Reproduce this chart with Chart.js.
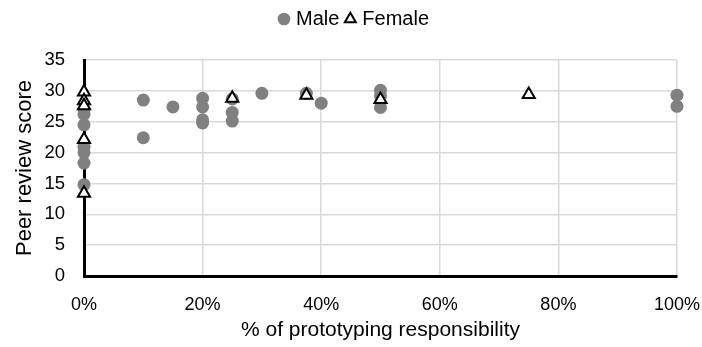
<!DOCTYPE html>
<html lang="en">
<head>
    <meta charset="UTF-8">
    <title>Peer review score vs prototyping responsibility</title>
    <script src="https://cdn.jsdelivr.net/npm/chart.js"></script>
    <style>
        html, body { margin: 0; padding: 0; background: #fff; }
        #wrap { width: 702px; height: 347px; }
    </style>
</head>
<body>
    <div id="wrap"><canvas id="scatter" width="702" height="347"></canvas></div>

    <script>
        // % of prototyping responsibility (x) and peer review score (y)
        const maleX = [0, 0, 0, 0, 0, 0, 0, 10, 10, 15, 20, 20, 20, 20, 25, 25, 25, 30, 37.5, 40, 50, 50, 50, 100, 100];
        const maleY = [27.0, 26.2, 24.5, 20.9, 20.0, 18.3, 14.8, 28.5, 22.4, 27.4, 28.8, 27.4, 25.3, 24.8, 28.7, 26.5, 25.1, 29.6, 29.6, 28.0, 30.1, 29.2, 27.3, 29.3, 27.5];
        const femaleX = [0, 0, 0, 0, 0, 25, 37.5, 50, 75];
        const femaleY = [29.8, 28.4, 27.6, 22.1, 13.4, 28.8, 29.3, 28.6, 29.4];

        const xTicks = [0, 20, 40, 60, 80, 100];
        const yTicks = [0, 5, 10, 15, 20, 25, 30, 35];

        const toPoints = (xs, ys) => xs.map((x, i) => ({ x: x, y: ys[i] }));

        const family = 'Liberation Sans, Arial, sans-serif';

        // legend box is made taller so the plot starts lower, like the original
        const legendGap = {
            id: 'legendGap',
            beforeLayout(chart) {
                const lg = chart.legend;
                if (!lg || lg._gapDone) return;
                const fit = lg.fit.bind(lg);
                lg.fit = function () { fit(); this.height = 60; };
                lg._gapDone = true;
            }
        };

        new Chart(document.getElementById('scatter'), {
            type: 'scatter',
            data: {
                datasets: [{
                    label: 'Female',
                    data: toPoints(femaleX, femaleY),
                    pointStyle: 'triangle',
                    radius: 7,
                    backgroundColor: '#ffffff',
                    borderColor: '#000000',
                    borderWidth: 2,
                    clip: false
                }, {
                    label: 'Male',
                    data: toPoints(maleX, maleY),
                    pointStyle: 'circle',
                    radius: 6.5,
                    backgroundColor: '#808080',
                    borderColor: '#808080',
                    borderWidth: 0,
                    clip: false
                }]
            },
            plugins: [legendGap],
            options: {
                responsive: false,
                animation: false,
                layout: { padding: { left: 12, right: 3, top: 0, bottom: 4 } },
                plugins: {
                    tooltip: { enabled: false },
                    legend: {
                        position: 'top',
                        reverse: true,
                        labels: {
                            usePointStyle: true,
                            boxWidth: 4,
                            boxHeight: 9,
                            color: '#000',
                            font: { family: family, size: 20 },
                            padding: 9
                        }
                    }
                },
                scales: {
                    x: {
                        type: 'linear',
                        min: 0,
                        max: 100,
                        afterBuildTicks: axis => { axis.ticks = xTicks.map(v => ({ value: v })); },
                        afterFit: axis => { axis.height = 67; },
                        ticks: {
                            color: '#000',
                            font: { family: family, size: 18 },
                            padding: 2,
                            callback: v => v + '%'
                        },
                        grid: { color: '#d9d9d9', lineWidth: 1.5, drawTicks: true, tickLength: 16, tickColor: 'rgba(0,0,0,0)' },
                        border: { color: '#000', width: 3 },
                        title: {
                            display: true,
                            text: '% of prototyping responsibility',
                            color: '#000',
                            font: { family: family, size: 21 },
                            padding: 0
                        }
                    },
                    y: {
                        min: 0,
                        max: 35,
                        afterBuildTicks: axis => { axis.ticks = yTicks.map(v => ({ value: v })); },
                        afterFit: axis => { axis.width = 72; },
                        ticks: {
                            color: '#000',
                            font: { family: family, size: 18.5 },
                            padding: 19
                        },
                        grid: { color: '#d9d9d9', lineWidth: 1.5, drawTicks: false },
                        border: { color: '#000', width: 3 },
                        title: {
                            display: true,
                            text: 'Peer review score',
                            color: '#000',
                            font: { family: family, size: 22 },
                            padding: 0
                        }
                    }
                }
            }
        });
    </script>
</body>
</html>
